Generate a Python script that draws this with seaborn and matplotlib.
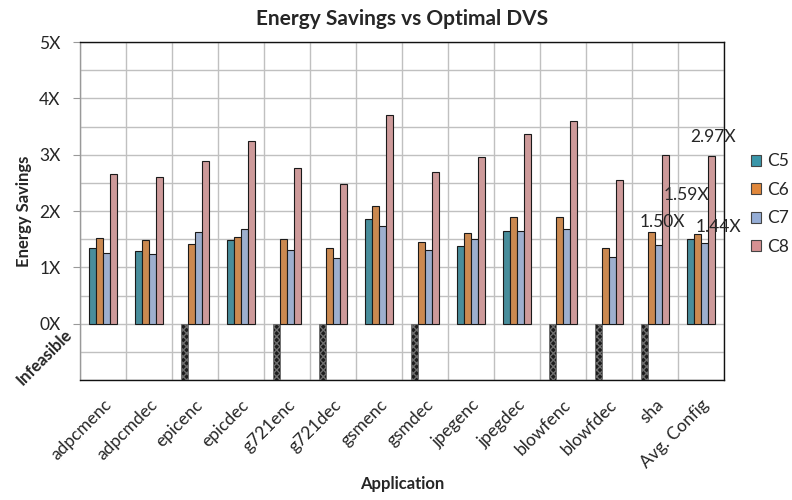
import numpy as np
import pandas as pd
import matplotlib
matplotlib.use("Agg")
import matplotlib.pyplot as plt
from matplotlib.patches import Patch
import seaborn as sns

# Energy savings relative to optimal DVS per application and configuration.
# A value of -1 marks a configuration that is infeasible for that application.
apps = ["adpcmenc", "adpcmdec", "epicenc", "epicdec", "g721enc", "g721dec",
        "gsmenc", "gsmdec", "jpegenc", "jpegdec", "blowfenc", "blowfdec",
        "sha", "Avg. Config"]
configs = ["C5", "C6", "C7", "C8"]
c5 = [1.34, 1.29, -1, 1.49, -1, -1, 1.85, -1, 1.38, 1.64, -1, -1, -1, 1.50]
c6 = [1.52, 1.48, 1.42, 1.54, 1.50, 1.34, 2.09, 1.45, 1.61, 1.89, 1.89, 1.34, 1.62, 1.59]
c7 = [1.25, 1.24, 1.63, 1.68, 1.31, 1.17, 1.73, 1.31, 1.50, 1.64, 1.68, 1.19, 1.40, 1.44]
c8 = [2.66, 2.61, 2.89, 3.24, 2.77, 2.48, 3.70, 2.70, 2.95, 3.36, 3.60, 2.55, 3.00, 2.97]
ytick_vals = [0, 1, 2, 3, 4, 5]
ytick_labels = ["0X", "1X", "2X", "3X", "4X", "5X"]
infeasible_label = "Infeasible"

colors = ["#3A96A9", "#E0873B", "#95ADD6", "#D69192"]

df = pd.DataFrame({
    "Application": np.repeat(apps, len(configs)),
    "Config": configs * len(apps),
    "Savings": np.ravel(np.column_stack([c5, c6, c7, c8])),
})

sns.set_style("white")
plt.rcParams["font.family"] = ["Lato", "DejaVu Sans"]

fig = plt.figure(figsize=(7.92, 5.00), dpi=100)
ax = fig.add_axes([80 / 792, 1 - 380 / 500, 644 / 792, 338 / 500])

sns.barplot(data=df, x="Application", y="Savings", hue="Config",
            order=apps, hue_order=configs, palette=colors, width=0.6,
            edgecolor="#1a1a1a", linewidth=0.8, errorbar=None,
            legend=False, ax=ax, zorder=3)

# infeasible entries drawn as dark checkered bars below zero
for cont in ax.containers:
    for p in cont.patches:
        if p.get_height() < 0:
            p.set_facecolor("#1c1c1c")
            p.set_edgecolor("#6e6e6e")
            p.set_linewidth(0.6)
            p.set_hatch("xxxxx")

ax.set_ylim(-1, 5)
ax.set_xlim(-0.5, len(apps) - 0.5)

ax.set_yticks(ytick_vals)
ax.set_yticklabels(ytick_labels, fontsize=12.5)
ax.set_yticks(np.arange(-1, 5.01, 0.5), minor=True)
ax.set_xticks(np.arange(-0.5, len(apps), 1.0), minor=True)
ax.set_xticks(range(len(apps)))
ax.set_xticklabels(apps, rotation=45, ha="right", rotation_mode="anchor",
                   fontsize=12.5)

ax.tick_params(axis="y", which="major", length=5, color="#999999",
               pad=9, left=True)
ax.tick_params(axis="y", which="minor", length=0)
ax.tick_params(axis="x", which="both", length=0, pad=12)

ax.grid(True, which="minor", axis="both", color="#c0c0c0", linewidth=1.0,
        zorder=0)
ax.grid(True, which="major", axis="y", color="#c0c0c0", linewidth=1.0,
        zorder=0)
ax.grid(False, which="major", axis="x")
ax.set_axisbelow(True)

for side in ["top", "right", "bottom"]:
    ax.spines[side].set_color("#111111")
    ax.spines[side].set_linewidth(1.0)
ax.spines["left"].set_color("#999999")
ax.spines["left"].set_linewidth(1.0)

ax.text(-0.056, -0.6, infeasible_label, transform=ax.get_yaxis_transform(),
        rotation=45, ha="center", va="center", fontsize=12,
        fontweight="bold")

ax.set_title("Energy Savings vs Optimal DVS", fontsize=15,
             fontweight="bold", pad=12)
ax.set_xlabel("Application", fontsize=12, fontweight="bold", labelpad=4)
ax.set_ylabel("Energy Savings", fontsize=12, fontweight="bold", labelpad=5)

# value labels for the average configuration group
avg_idx = len(apps) - 1
offsets = [(-28, 17), (-11, 39), (14, 16), (2, 19)]
for k, cont in enumerate(ax.containers):
    p = cont.patches[avg_idx]
    val = p.get_height()
    ax.annotate(f"{val:.2f}X",
                xy=(p.get_x() + p.get_width() / 2, val),
                xytext=(offsets[k][0] * 0.72, offsets[k][1] * 0.72),
                textcoords="offset points", ha="center", va="center",
                fontsize=12.5, zorder=5)

handles = [Patch(facecolor=c, edgecolor="#444444", linewidth=0.8)
           for c in colors]
fig.legend(handles, configs, loc="center left",
           bbox_to_anchor=(751 / 792, 1 - 204 / 500), frameon=False,
           fontsize=12.5, handlelength=0.6, handleheight=0.6,
           handletextpad=0.3, labelspacing=0.72, borderaxespad=0,
           borderpad=0)

fig.savefig("out.png", dpi=100)
